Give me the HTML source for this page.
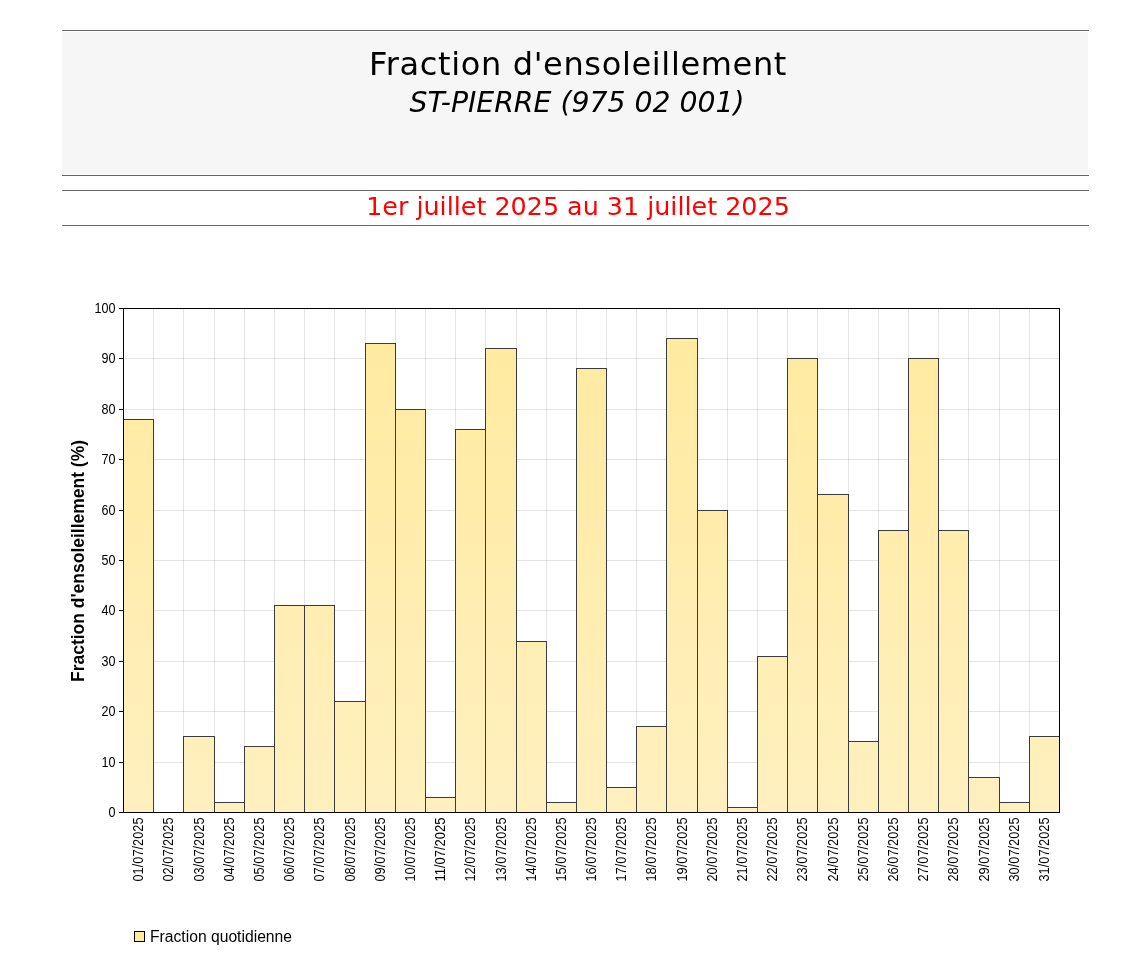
<!DOCTYPE html>
<html lang="fr"><head><meta charset="utf-8"><title>Fraction d'ensoleillement</title>
<style>
html,body{margin:0;padding:0;background:#fff}
body{width:1136px;height:974px;position:relative;overflow:hidden;font-family:"DejaVu Sans","Liberation Sans",sans-serif;color:#000}
.ln{position:absolute;left:62px;width:1027px;height:1px;background:#666}
.hb{position:absolute;left:62px;top:32px;width:1026px;height:142px;background:#f6f6f6}
.t1{position:absolute;left:3px;width:1150px;text-align:center;top:45px;font-size:32px;letter-spacing:0.65px;line-height:38px;white-space:nowrap}
.t2{position:absolute;left:2px;width:1150px;text-align:center;top:86px;font-size:28.3px;line-height:34px;font-style:italic;white-space:nowrap}
.t3{position:absolute;left:3px;width:1150px;text-align:center;top:191px;font-size:25.4px;line-height:30px;color:#f00;white-space:nowrap}
svg text{font-family:"Liberation Sans",sans-serif;fill:#000}
.yl{font-size:14px}
.xl{font-size:14px}
.yt{font-size:19px;font-weight:bold}
.lg{font-size:16px}
</style></head><body>
<div class="ln" style="top:30px"></div>
<div class="hb"></div>
<div class="ln" style="top:175px"></div>
<div class="ln" style="top:190px"></div>
<div class="ln" style="top:225px"></div>
<div class="t1">Fraction d'ensoleillement</div>
<div class="t2">ST-PIERRE (975 02 001)</div>
<div class="t3">1er juillet 2025 au 31 juillet 2025</div>
<svg width="1136" height="974" viewBox="0 0 1136 974" style="position:absolute;left:0;top:0" shape-rendering="crispEdges">
<defs><linearGradient id="g" gradientUnits="userSpaceOnUse" x1="0" y1="308" x2="0" y2="812"><stop offset="0" stop-color="#ffea9e"/><stop offset="1" stop-color="#fff0bf"/></linearGradient></defs>
<rect x="153" y="309" width="1" height="503" fill="rgba(0,0,0,0.105)"/>
<rect x="183" y="309" width="1" height="503" fill="rgba(0,0,0,0.105)"/>
<rect x="214" y="309" width="1" height="503" fill="rgba(0,0,0,0.105)"/>
<rect x="244" y="309" width="1" height="503" fill="rgba(0,0,0,0.105)"/>
<rect x="274" y="309" width="1" height="503" fill="rgba(0,0,0,0.105)"/>
<rect x="304" y="309" width="1" height="503" fill="rgba(0,0,0,0.105)"/>
<rect x="334" y="309" width="1" height="503" fill="rgba(0,0,0,0.105)"/>
<rect x="365" y="309" width="1" height="503" fill="rgba(0,0,0,0.105)"/>
<rect x="395" y="309" width="1" height="503" fill="rgba(0,0,0,0.105)"/>
<rect x="425" y="309" width="1" height="503" fill="rgba(0,0,0,0.105)"/>
<rect x="455" y="309" width="1" height="503" fill="rgba(0,0,0,0.105)"/>
<rect x="485" y="309" width="1" height="503" fill="rgba(0,0,0,0.105)"/>
<rect x="516" y="309" width="1" height="503" fill="rgba(0,0,0,0.105)"/>
<rect x="546" y="309" width="1" height="503" fill="rgba(0,0,0,0.105)"/>
<rect x="576" y="309" width="1" height="503" fill="rgba(0,0,0,0.105)"/>
<rect x="606" y="309" width="1" height="503" fill="rgba(0,0,0,0.105)"/>
<rect x="636" y="309" width="1" height="503" fill="rgba(0,0,0,0.105)"/>
<rect x="666" y="309" width="1" height="503" fill="rgba(0,0,0,0.105)"/>
<rect x="697" y="309" width="1" height="503" fill="rgba(0,0,0,0.105)"/>
<rect x="727" y="309" width="1" height="503" fill="rgba(0,0,0,0.105)"/>
<rect x="757" y="309" width="1" height="503" fill="rgba(0,0,0,0.105)"/>
<rect x="787" y="309" width="1" height="503" fill="rgba(0,0,0,0.105)"/>
<rect x="817" y="309" width="1" height="503" fill="rgba(0,0,0,0.105)"/>
<rect x="848" y="309" width="1" height="503" fill="rgba(0,0,0,0.105)"/>
<rect x="878" y="309" width="1" height="503" fill="rgba(0,0,0,0.105)"/>
<rect x="908" y="309" width="1" height="503" fill="rgba(0,0,0,0.105)"/>
<rect x="938" y="309" width="1" height="503" fill="rgba(0,0,0,0.105)"/>
<rect x="968" y="309" width="1" height="503" fill="rgba(0,0,0,0.105)"/>
<rect x="999" y="309" width="1" height="503" fill="rgba(0,0,0,0.105)"/>
<rect x="1029" y="309" width="1" height="503" fill="rgba(0,0,0,0.105)"/>
<rect x="124" y="762" width="935" height="1" fill="rgba(0,0,0,0.105)"/>
<rect x="124" y="711" width="935" height="1" fill="rgba(0,0,0,0.105)"/>
<rect x="124" y="661" width="935" height="1" fill="rgba(0,0,0,0.105)"/>
<rect x="124" y="610" width="935" height="1" fill="rgba(0,0,0,0.105)"/>
<rect x="124" y="560" width="935" height="1" fill="rgba(0,0,0,0.105)"/>
<rect x="124" y="510" width="935" height="1" fill="rgba(0,0,0,0.105)"/>
<rect x="124" y="459" width="935" height="1" fill="rgba(0,0,0,0.105)"/>
<rect x="124" y="409" width="935" height="1" fill="rgba(0,0,0,0.105)"/>
<rect x="124" y="358" width="935" height="1" fill="rgba(0,0,0,0.105)"/>
<rect x="123" y="419" width="31" height="394" fill="#393b3f"/>
<rect x="124" y="420" width="29" height="392" fill="url(#g)"/>
<rect x="183" y="736" width="32" height="77" fill="#393b3f"/>
<rect x="184" y="737" width="30" height="75" fill="url(#g)"/>
<rect x="214" y="802" width="31" height="11" fill="#393b3f"/>
<rect x="215" y="803" width="29" height="9" fill="url(#g)"/>
<rect x="244" y="746" width="31" height="67" fill="#393b3f"/>
<rect x="245" y="747" width="29" height="65" fill="url(#g)"/>
<rect x="274" y="605" width="31" height="208" fill="#393b3f"/>
<rect x="275" y="606" width="29" height="206" fill="url(#g)"/>
<rect x="304" y="605" width="31" height="208" fill="#393b3f"/>
<rect x="305" y="606" width="29" height="206" fill="url(#g)"/>
<rect x="334" y="701" width="32" height="112" fill="#393b3f"/>
<rect x="335" y="702" width="30" height="110" fill="url(#g)"/>
<rect x="365" y="343" width="31" height="470" fill="#393b3f"/>
<rect x="366" y="344" width="29" height="468" fill="url(#g)"/>
<rect x="395" y="409" width="31" height="404" fill="#393b3f"/>
<rect x="396" y="410" width="29" height="402" fill="url(#g)"/>
<rect x="425" y="797" width="31" height="16" fill="#393b3f"/>
<rect x="426" y="798" width="29" height="14" fill="url(#g)"/>
<rect x="455" y="429" width="31" height="384" fill="#393b3f"/>
<rect x="456" y="430" width="29" height="382" fill="url(#g)"/>
<rect x="485" y="348" width="32" height="465" fill="#393b3f"/>
<rect x="486" y="349" width="30" height="463" fill="url(#g)"/>
<rect x="516" y="641" width="31" height="172" fill="#393b3f"/>
<rect x="517" y="642" width="29" height="170" fill="url(#g)"/>
<rect x="546" y="802" width="31" height="11" fill="#393b3f"/>
<rect x="547" y="803" width="29" height="9" fill="url(#g)"/>
<rect x="576" y="368" width="31" height="445" fill="#393b3f"/>
<rect x="577" y="369" width="29" height="443" fill="url(#g)"/>
<rect x="606" y="787" width="31" height="26" fill="#393b3f"/>
<rect x="607" y="788" width="29" height="24" fill="url(#g)"/>
<rect x="636" y="726" width="31" height="87" fill="#393b3f"/>
<rect x="637" y="727" width="29" height="85" fill="url(#g)"/>
<rect x="666" y="338" width="32" height="475" fill="#393b3f"/>
<rect x="667" y="339" width="30" height="473" fill="url(#g)"/>
<rect x="697" y="510" width="31" height="303" fill="#393b3f"/>
<rect x="698" y="511" width="29" height="301" fill="url(#g)"/>
<rect x="727" y="807" width="31" height="6" fill="#393b3f"/>
<rect x="728" y="808" width="29" height="4" fill="url(#g)"/>
<rect x="757" y="656" width="31" height="157" fill="#393b3f"/>
<rect x="758" y="657" width="29" height="155" fill="url(#g)"/>
<rect x="787" y="358" width="31" height="455" fill="#393b3f"/>
<rect x="788" y="359" width="29" height="453" fill="url(#g)"/>
<rect x="817" y="494" width="32" height="319" fill="#393b3f"/>
<rect x="818" y="495" width="30" height="317" fill="url(#g)"/>
<rect x="848" y="741" width="31" height="72" fill="#393b3f"/>
<rect x="849" y="742" width="29" height="70" fill="url(#g)"/>
<rect x="878" y="530" width="31" height="283" fill="#393b3f"/>
<rect x="879" y="531" width="29" height="281" fill="url(#g)"/>
<rect x="908" y="358" width="31" height="455" fill="#393b3f"/>
<rect x="909" y="359" width="29" height="453" fill="url(#g)"/>
<rect x="938" y="530" width="31" height="283" fill="#393b3f"/>
<rect x="939" y="531" width="29" height="281" fill="url(#g)"/>
<rect x="968" y="777" width="32" height="36" fill="#393b3f"/>
<rect x="969" y="778" width="30" height="34" fill="url(#g)"/>
<rect x="999" y="802" width="31" height="11" fill="#393b3f"/>
<rect x="1000" y="803" width="29" height="9" fill="url(#g)"/>
<rect x="1029" y="736" width="31" height="77" fill="#393b3f"/>
<rect x="1030" y="737" width="29" height="75" fill="url(#g)"/>
<rect x="123" y="308" width="937" height="1" fill="#000"/>
<rect x="123" y="812" width="937" height="1" fill="#000"/>
<rect x="123" y="308" width="1" height="505" fill="#000"/>
<rect x="1059" y="308" width="1" height="505" fill="#000"/>
<rect x="119" y="812" width="4" height="1" fill="#000"/>
<text class="yl" x="108.5" y="817" textLength="7" lengthAdjust="spacingAndGlyphs">0</text>
<rect x="119" y="762" width="4" height="1" fill="#000"/>
<text class="yl" x="101.5" y="767" textLength="14" lengthAdjust="spacingAndGlyphs">10</text>
<rect x="119" y="711" width="4" height="1" fill="#000"/>
<text class="yl" x="101.5" y="716" textLength="14" lengthAdjust="spacingAndGlyphs">20</text>
<rect x="119" y="661" width="4" height="1" fill="#000"/>
<text class="yl" x="101.5" y="666" textLength="14" lengthAdjust="spacingAndGlyphs">30</text>
<rect x="119" y="610" width="4" height="1" fill="#000"/>
<text class="yl" x="101.5" y="615" textLength="14" lengthAdjust="spacingAndGlyphs">40</text>
<rect x="119" y="560" width="4" height="1" fill="#000"/>
<text class="yl" x="101.5" y="565" textLength="14" lengthAdjust="spacingAndGlyphs">50</text>
<rect x="119" y="510" width="4" height="1" fill="#000"/>
<text class="yl" x="101.5" y="515" textLength="14" lengthAdjust="spacingAndGlyphs">60</text>
<rect x="119" y="459" width="4" height="1" fill="#000"/>
<text class="yl" x="101.5" y="464" textLength="14" lengthAdjust="spacingAndGlyphs">70</text>
<rect x="119" y="409" width="4" height="1" fill="#000"/>
<text class="yl" x="101.5" y="414" textLength="14" lengthAdjust="spacingAndGlyphs">80</text>
<rect x="119" y="358" width="4" height="1" fill="#000"/>
<text class="yl" x="101.5" y="363" textLength="14" lengthAdjust="spacingAndGlyphs">90</text>
<rect x="119" y="308" width="4" height="1" fill="#000"/>
<text class="yl" x="94.5" y="313" textLength="21" lengthAdjust="spacingAndGlyphs">100</text>
<text class="xl" transform="translate(143.0,881.5) rotate(-90)" textLength="64" lengthAdjust="spacingAndGlyphs">01/07/2025</text>
<text class="xl" transform="translate(173.0,881.5) rotate(-90)" textLength="64" lengthAdjust="spacingAndGlyphs">02/07/2025</text>
<text class="xl" transform="translate(203.5,881.5) rotate(-90)" textLength="64" lengthAdjust="spacingAndGlyphs">03/07/2025</text>
<text class="xl" transform="translate(234.0,881.5) rotate(-90)" textLength="64" lengthAdjust="spacingAndGlyphs">04/07/2025</text>
<text class="xl" transform="translate(264.0,881.5) rotate(-90)" textLength="64" lengthAdjust="spacingAndGlyphs">05/07/2025</text>
<text class="xl" transform="translate(294.0,881.5) rotate(-90)" textLength="64" lengthAdjust="spacingAndGlyphs">06/07/2025</text>
<text class="xl" transform="translate(324.0,881.5) rotate(-90)" textLength="64" lengthAdjust="spacingAndGlyphs">07/07/2025</text>
<text class="xl" transform="translate(354.5,881.5) rotate(-90)" textLength="64" lengthAdjust="spacingAndGlyphs">08/07/2025</text>
<text class="xl" transform="translate(385.0,881.5) rotate(-90)" textLength="64" lengthAdjust="spacingAndGlyphs">09/07/2025</text>
<text class="xl" transform="translate(415.0,881.5) rotate(-90)" textLength="64" lengthAdjust="spacingAndGlyphs">10/07/2025</text>
<text class="xl" transform="translate(445.0,881.5) rotate(-90)" textLength="64" lengthAdjust="spacingAndGlyphs">11/07/2025</text>
<text class="xl" transform="translate(475.0,881.5) rotate(-90)" textLength="64" lengthAdjust="spacingAndGlyphs">12/07/2025</text>
<text class="xl" transform="translate(505.5,881.5) rotate(-90)" textLength="64" lengthAdjust="spacingAndGlyphs">13/07/2025</text>
<text class="xl" transform="translate(536.0,881.5) rotate(-90)" textLength="64" lengthAdjust="spacingAndGlyphs">14/07/2025</text>
<text class="xl" transform="translate(566.0,881.5) rotate(-90)" textLength="64" lengthAdjust="spacingAndGlyphs">15/07/2025</text>
<text class="xl" transform="translate(596.0,881.5) rotate(-90)" textLength="64" lengthAdjust="spacingAndGlyphs">16/07/2025</text>
<text class="xl" transform="translate(626.0,881.5) rotate(-90)" textLength="64" lengthAdjust="spacingAndGlyphs">17/07/2025</text>
<text class="xl" transform="translate(656.0,881.5) rotate(-90)" textLength="64" lengthAdjust="spacingAndGlyphs">18/07/2025</text>
<text class="xl" transform="translate(686.5,881.5) rotate(-90)" textLength="64" lengthAdjust="spacingAndGlyphs">19/07/2025</text>
<text class="xl" transform="translate(717.0,881.5) rotate(-90)" textLength="64" lengthAdjust="spacingAndGlyphs">20/07/2025</text>
<text class="xl" transform="translate(747.0,881.5) rotate(-90)" textLength="64" lengthAdjust="spacingAndGlyphs">21/07/2025</text>
<text class="xl" transform="translate(777.0,881.5) rotate(-90)" textLength="64" lengthAdjust="spacingAndGlyphs">22/07/2025</text>
<text class="xl" transform="translate(807.0,881.5) rotate(-90)" textLength="64" lengthAdjust="spacingAndGlyphs">23/07/2025</text>
<text class="xl" transform="translate(837.5,881.5) rotate(-90)" textLength="64" lengthAdjust="spacingAndGlyphs">24/07/2025</text>
<text class="xl" transform="translate(868.0,881.5) rotate(-90)" textLength="64" lengthAdjust="spacingAndGlyphs">25/07/2025</text>
<text class="xl" transform="translate(898.0,881.5) rotate(-90)" textLength="64" lengthAdjust="spacingAndGlyphs">26/07/2025</text>
<text class="xl" transform="translate(928.0,881.5) rotate(-90)" textLength="64" lengthAdjust="spacingAndGlyphs">27/07/2025</text>
<text class="xl" transform="translate(958.0,881.5) rotate(-90)" textLength="64" lengthAdjust="spacingAndGlyphs">28/07/2025</text>
<text class="xl" transform="translate(988.5,881.5) rotate(-90)" textLength="64" lengthAdjust="spacingAndGlyphs">29/07/2025</text>
<text class="xl" transform="translate(1019.0,881.5) rotate(-90)" textLength="64" lengthAdjust="spacingAndGlyphs">30/07/2025</text>
<text class="xl" transform="translate(1049.0,881.5) rotate(-90)" textLength="64" lengthAdjust="spacingAndGlyphs">31/07/2025</text>
<text class="yt" transform="translate(84,682) rotate(-90)" textLength="242" lengthAdjust="spacingAndGlyphs">Fraction d'ensoleillement (%)</text>
<rect x="134" y="931" width="11" height="11" fill="#000"/><rect x="135" y="932" width="9" height="9" fill="#ffea9d"/>
<text class="lg" x="150" y="942" textLength="142" lengthAdjust="spacingAndGlyphs">Fraction quotidienne</text>
</svg>
</body></html>
